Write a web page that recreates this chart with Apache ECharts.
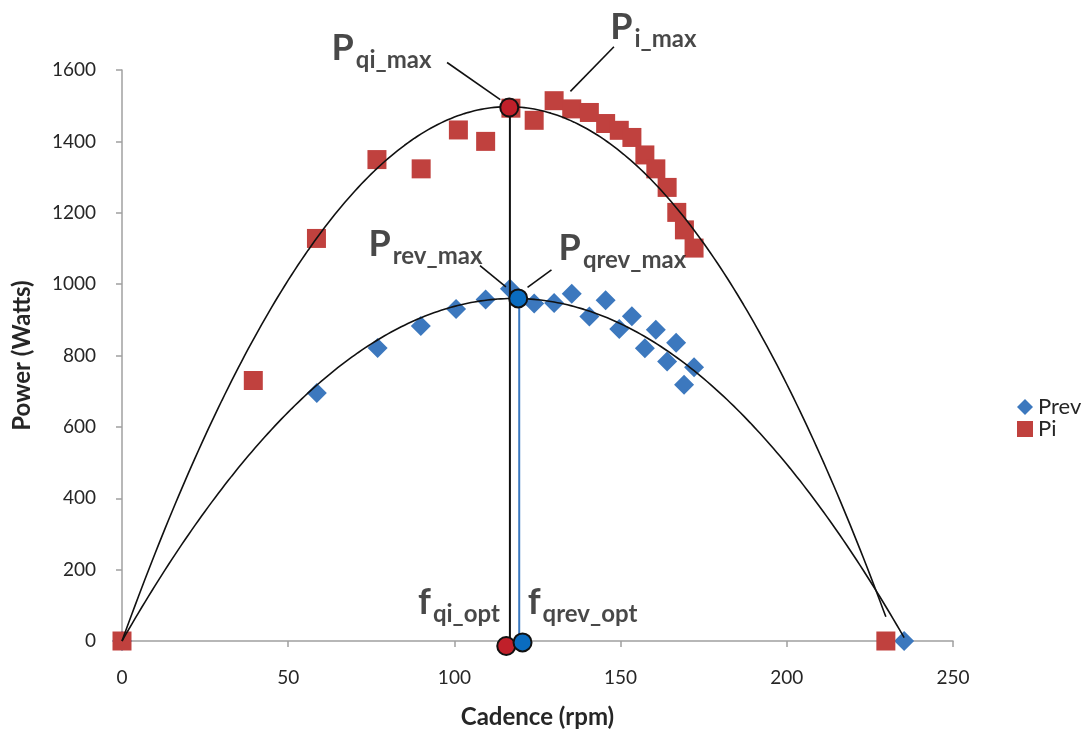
<!DOCTYPE html>
<html>
<head>
<meta charset="utf-8">
<script src="https://cdn.jsdelivr.net/npm/echarts@6/dist/echarts.min.js"></script>
<style>html,body{margin:0;padding:0;background:#fff}#c{width:1090px;height:731px}</style>
</head>
<body>
<div id="c"></div>
<script>
// ---- data ----
var prevX = [0, 58.6, 76.9, 89.9, 100.5, 109.4, 116.7, 124.0, 130.0, 135.3, 140.6, 145.5, 149.6, 153.4, 157.3, 160.6, 164.0, 166.7, 169.1, 172.1, 235.3];
var prevY = [0, 695, 821, 883, 930, 957, 987, 946, 947, 973, 909, 955, 874, 910, 820, 872, 783, 836, 718, 767, 0];
var piX = [0, 39.5, 58.5, 76.7, 90.0, 101.2, 109.4, 117.0, 124.0, 130.0, 135.3, 140.6, 145.5, 149.6, 153.4, 157.3, 160.6, 164.0, 166.9, 169.2, 172.1, 229.8];
var piY = [0, 730, 1128, 1349, 1323, 1432, 1400, 1493, 1459, 1514, 1491, 1481, 1450, 1431, 1411, 1362, 1323, 1271, 1201, 1152, 1101, 0];

// optimum markers: [x, y]
var qiMaxPoint = [116.5, 1495];
var qrevMaxPoint = [119.2, 960];
var qiOptPoint = [115.6, -14];
var qrevOptPoint = [120.5, -4];
var qiDropX = 116.7;
var qrevDropX = 119.5;

// annotation labels
var labelMain = ['P', 'P', 'P', 'P', 'f', 'f'];
var labelSub = ['qi_max', 'i_max', 'rev_max', 'qrev_max', 'qi_opt', 'qrev_opt'];
var labelX = [63.2, 147.0, 74.3, 131.5, 89.2, 122.2];
var labelY = [1592, 1652, 1042, 1032, 40, 40];
// leader lines: [x1, y1, x2, y2]
var leaders = [
  [97.8, 1621, 113.8, 1517],
  [148.0, 1665, 134.9, 1540],
  [107.7, 1052, 115.5, 992],
  [129.2, 1040, 122.0, 991]
];

var xTicks = {min: 0, max: 250, interval: 50};
var yTicks = {min: 0, max: 1600, interval: 200};

// ---- quadratic least-squares trendline through origin (Excel polynomial trendline, intercept = 0) ----
function quadFit0(xs, ys) {
  var s2 = 0, s3 = 0, s4 = 0, t1 = 0, t2 = 0;
  for (var i = 0; i < xs.length; i++) {
    var x = xs[i], y = ys[i];
    s2 += x * x; s3 += x * x * x; s4 += x * x * x * x;
    t1 += x * y; t2 += x * x * y;
  }
  var det = s2 * s4 - s3 * s3;
  return [(t1 * s4 - t2 * s3) / det, (s2 * t2 - s3 * t1) / det];
}
function trend(xs, ys) {
  var co = quadFit0(xs, ys), out = [];
  var lo = Math.min.apply(null, xs), hi = Math.max.apply(null, xs);
  for (var x = lo; x <= hi + 1e-9; x += 1) out.push([x, co[0] * x + co[1] * x * x]);
  if (out[out.length - 1][0] < hi) out.push([hi, co[0] * hi + co[1] * hi * hi]);
  return out;
}
function zip(a, b) { return a.map(function (v, i) { return [v, b[i]]; }); }

var FONT = 'Lato, "Liberation Sans", sans-serif';
var TXT = '#262626';
var ANN = '#1a1a1a';
var BLUE = '#3C78BE';
var RED = '#C0413E';

var series = [
  { name: 'Prev', type: 'scatter', data: zip(prevX, prevY), symbol: 'diamond', symbolSize: 20,
    itemStyle: { color: BLUE, opacity: 1 }, z: 2 },
  { name: 'Pi', type: 'scatter', data: zip(piX, piY), symbol: 'rect', symbolSize: 19,
    itemStyle: { color: RED, opacity: 1 }, z: 2 },
  { type: 'line', data: trend(prevX, prevY), showSymbol: false, clip: false,
    lineStyle: { color: '#111', width: 1.6 }, z: 3, silent: true },
  { type: 'line', data: trend(piX, piY), showSymbol: false, clip: false,
    lineStyle: { color: '#111', width: 1.6 }, z: 3, silent: true },
  { type: 'line', data: [[qiDropX, qiMaxPoint[1]], [qiDropX, qiOptPoint[1] + 8]], showSymbol: false, clip: false,
    lineStyle: { color: '#111', width: 2 }, z: 4 },
  { type: 'line', data: [[qrevDropX, qrevMaxPoint[1]], [qrevDropX, qrevOptPoint[1] + 3]], showSymbol: false, clip: false,
    lineStyle: { color: '#3A78C0', width: 2 }, z: 4 }
];
leaders.forEach(function (l) {
  series.push({ type: 'line', data: [[l[0], l[1]], [l[2], l[3]]], showSymbol: false, clip: false,
    lineStyle: { color: '#111', width: 1.6 }, z: 4 });
});
series.push({ type: 'scatter', clip: false, z: 6, symbol: 'circle', symbolSize: 18,
  data: [
    { value: qiMaxPoint, itemStyle: { color: '#C0202A' } },
    { value: qrevMaxPoint, itemStyle: { color: '#0A6CC0' } },
    { value: qiOptPoint, itemStyle: { color: '#C0202A' } },
    { value: qrevOptPoint, itemStyle: { color: '#0A6CC0' } }
  ],
  itemStyle: { borderColor: '#111', borderWidth: 2, opacity: 1 } });
series.push({ type: 'scatter', clip: false, z: 7, symbolSize: 1, itemStyle: { color: 'rgba(0,0,0,0)' }, silent: true,
  data: labelX.map(function (x, i) { return { value: [x, labelY[i]], m: labelMain[i], s: labelSub[i] }; }),
  label: { show: true, position: [0, 0], align: 'left', verticalAlign: 'bottom',
    formatter: function (p) { return '{m|' + p.data.m + '}{s|' + p.data.s + '}'; },
    rich: {
      m: { fontFamily: FONT, fontWeight: 'bold', fontSize: 36, color: ANN, verticalAlign: 'bottom', lineHeight: 40, padding: [0, 2, 6, 0] },
      s: { fontFamily: FONT, fontWeight: 'bold', fontSize: 24, color: ANN, verticalAlign: 'bottom', lineHeight: 27 }
    } } });

var chart = echarts.init(document.getElementById('c'), null, { renderer: 'canvas' });
chart.setOption({
  animation: false,
  backgroundColor: '#fff',
  textStyle: { fontFamily: FONT },
  grid: { left: 122, right: 137, top: 70, bottom: 90, containLabel: false, outerBoundsMode: 'none' },
  legend: {
    data: [{ name: 'Prev', icon: 'diamond' }, { name: 'Pi', icon: 'rect' }],
    orient: 'vertical', left: 1012, top: 391, itemWidth: 16, itemHeight: 16, itemGap: 0,
    textStyle: { fontFamily: FONT, fontSize: 22, color: TXT }
  },
  xAxis: {
    type: 'value', min: xTicks.min, max: xTicks.max, interval: xTicks.interval,
    name: 'Cadence (rpm)', nameLocation: 'middle', nameGap: 64,
    nameTextStyle: { fontFamily: FONT, fontWeight: 'bold', fontSize: 24, color: TXT },
    axisLine: { show: true, lineStyle: { color: '#A0A0A0', width: 1.5 } },
    axisTick: { show: true, length: 6, lineStyle: { color: '#A0A0A0', width: 1.5 } },
    axisLabel: { fontFamily: FONT, fontSize: 19, color: TXT, margin: 27, formatter: function (v) { return String(v); } },
    splitLine: { show: false }
  },
  yAxis: {
    type: 'value', min: yTicks.min, max: yTicks.max, interval: yTicks.interval,
    name: 'Power (Watts)', nameLocation: 'middle', nameGap: 88, nameRotate: 90,
    nameTextStyle: { fontFamily: FONT, fontWeight: 'bold', fontSize: 24, color: TXT },
    axisLine: { show: true, lineStyle: { color: '#A0A0A0', width: 1.5 } },
    axisTick: { show: true, length: 6, lineStyle: { color: '#A0A0A0', width: 1.5 } },
    axisLabel: { fontFamily: FONT, fontSize: 19, color: TXT, margin: 26, formatter: function (v) { return String(v); } },
    splitLine: { show: false }
  },
  series: series
});
</script>
</body>
</html>
